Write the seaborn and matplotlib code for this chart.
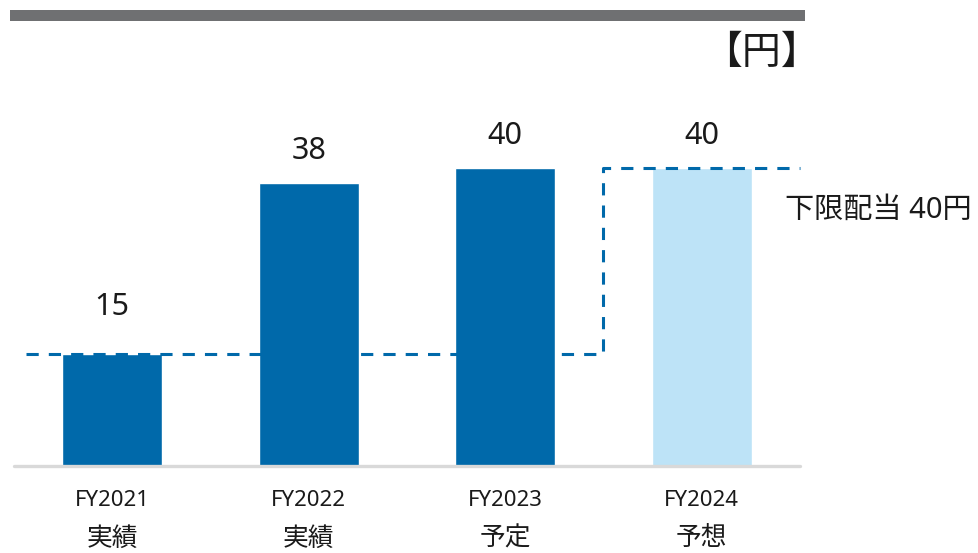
import matplotlib
matplotlib.use("Agg")
import matplotlib.pyplot as plt
from matplotlib.patches import Rectangle
import seaborn as sns
import pandas as pd

# ---- data ----
fiscal_years = ["FY2021", "FY2022", "FY2023", "FY2024"]
status_labels = ["実績", "実績", "予定", "予想"]
dividends = [15, 38, 40, 40]
floor_dividend = [15, 15, 15, 40]
unit_label = "【円】"
floor_label = "下限配当 40円"

sns.set_theme(style="white")
plt.rcParams["font.family"] = ["Noto Sans", "Noto Sans CJK JP", "DejaVu Sans"]

DARK = "#0069AA"
LIGHT = "#BDE3F7"
bar_colors = [DARK, DARK, DARK, LIGHT]

W, H = 979, 553
fig = plt.figure(figsize=(W / 100, H / 100), dpi=100)
ax = fig.add_axes([14 / W, (H - 466) / H, 786 / W, 372.5 / H])

df = pd.DataFrame({"year": fiscal_years, "dividend": dividends})
sns.barplot(data=df, x="year", y="dividend", hue="year", palette=bar_colors,
            width=0.51, saturation=1, legend=False, ax=ax, zorder=2)

ax.set_xlim(-0.5, 3.5)
ax.set_ylim(0, 50)
for s in ax.spines.values():
    s.set_visible(False)
ax.set_yticks([])
ax.set_xlabel("")
ax.set_ylabel("")
ax.set_xticks(range(len(fiscal_years)))
ax.set_xticklabels([])
ax.tick_params(axis="x", length=0)

# baseline
ax.axhline(0, color="#D9D9D9", lw=2.4, zorder=3, clip_on=False)

# floor dividend dashed step line
xs = [-0.44] + [i + 0.5 for i in range(len(floor_dividend))]
ys = floor_dividend + [floor_dividend[-1]]
ax.step(xs, ys, where="post", color=DARK, lw=2.2, dashes=(4, 3.3), zorder=4,
        clip_on=False)

# value labels
label_offsets = [28, 17.3, 17.3, 17.3]
for i, v in enumerate(dividends):
    ax.annotate(f"{v}", xy=(i, v), xytext=(0, label_offsets[i]),
                textcoords="offset points", ha="center", va="baseline",
                fontsize=22, color="#1a1a1a")

# category labels (two lines)
for i, (fy, st) in enumerate(zip(fiscal_years, status_labels)):
    ax.annotate(fy, xy=(i, 0), xytext=(0, -24.5), textcoords="offset points",
                ha="center", va="center", fontsize=16, color="#1a1a1a",
                annotation_clip=False)
    ax.annotate(st, xy=(i, 0), xytext=(0, -52.5), textcoords="offset points",
                ha="center", va="center", fontsize=18.5, color="#1a1a1a",
                annotation_clip=False)

# floor label
ax.annotate(floor_label, xy=(3.5, floor_dividend[-1]), xytext=(-11, -30.5),
            textcoords="offset points", ha="left", va="center",
            fontsize=21, color="#1a1a1a", annotation_clip=False)

# unit label
fig.text(820 / W, 1 - 54 / H, unit_label, ha="right", va="center",
         fontsize=28, color="#1a1a1a")

# top decorative rule
fig.add_artist(Rectangle((10 / W, 1 - 21 / H), 795 / W, 11 / H,
                         transform=fig.transFigure, color="#6F7072", lw=0))

fig.savefig("out.png", dpi=100)
